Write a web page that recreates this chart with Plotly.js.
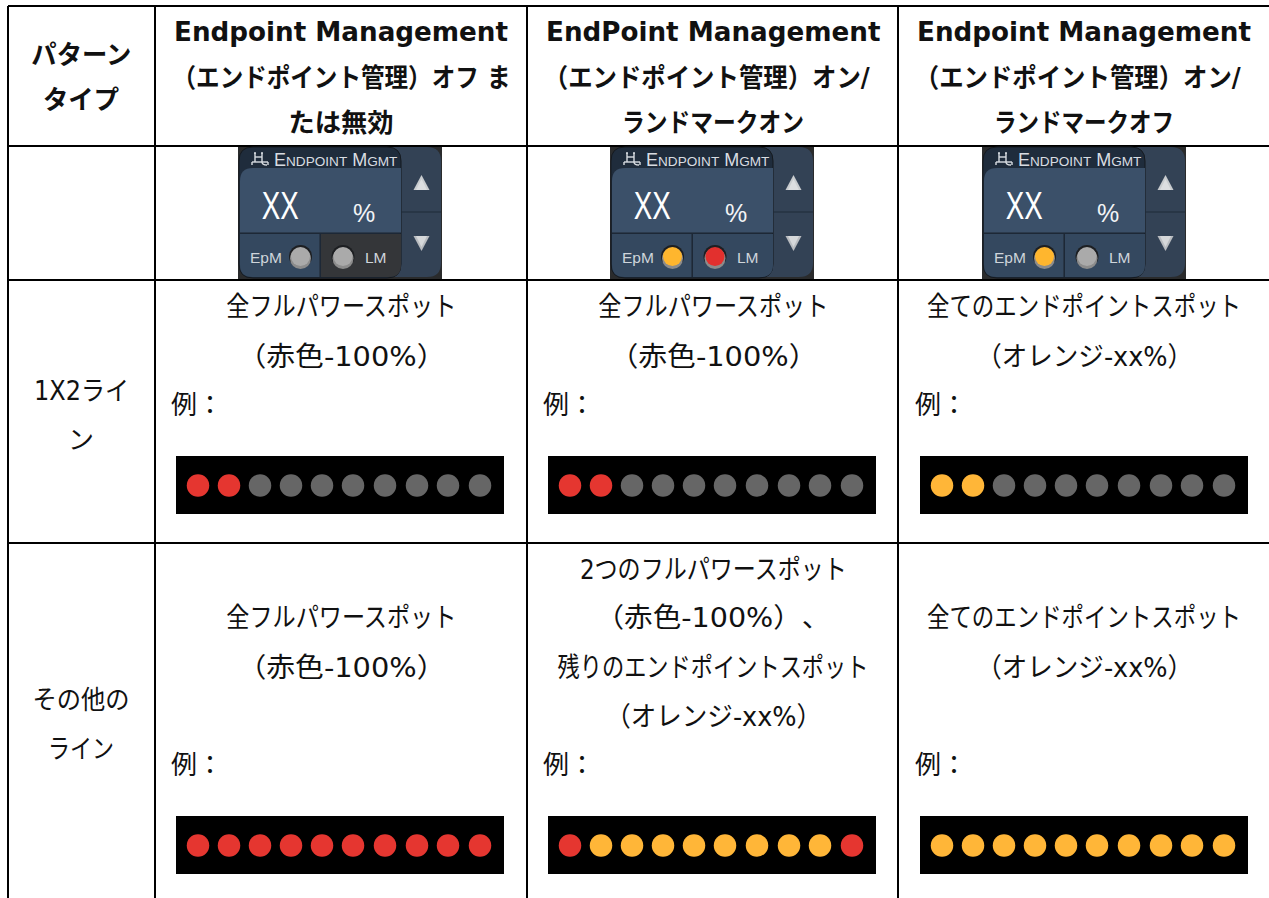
<!DOCTYPE html>
<html><head><meta charset="utf-8">
<script src="https://cdn.plot.ly/plotly-3.0.1.min.js"></script>
<style>html,body{margin:0;padding:0;background:#fff}#c{width:1269px;height:898px}</style></head>
<body><div id="c"></div>
<script>
// ---- data ----
const headers = [
  ['パターン','タイプ'],
  ['Endpoint Management','（エンドポイント管理）オフ ま','たは無効'],
  ['EndPoint Management','（エンドポイント管理）オン/','ランドマークオン'],
  ['Endpoint Management','（エンドポイント管理）オン/','ランドマークオフ']
];
const rowLabels = [['1X2ライ','ン'],['その他の','ライン']];
const exampleLabel = '例：';
const row1Text = [
  ['全フルパワースポット','（赤色-100%）'],
  ['全フルパワースポット','（赤色-100%）'],
  ['全てのエンドポイントスポット','（オレンジ-xx%）']
];
const row2Text = [
  ['全フルパワースポット','（赤色-100%）'],
  ['2つのフルパワースポット','（赤色-100%）\u200B、','残りのエンドポイントスポット','（オレンジ-xx%）'],
  ['全てのエンドポイントスポット','（オレンジ-xx%）']
];
const row1Strips = [
  ['R','R','G','G','G','G','G','G','G','G'],
  ['R','R','G','G','G','G','G','G','G','G'],
  ['O','O','G','G','G','G','G','G','G','G']
];
const row2Strips = [
  ['R','R','R','R','R','R','R','R','R','R'],
  ['R','O','O','O','O','O','O','O','O','R'],
  ['O','O','O','O','O','O','O','O','O','O']
];
const widgetEpM = ['off','on','on'];
const widgetLM  = ['off','red','off'];
const widgetValue = 'XX', widgetUnit = '%';

// ---- style ----
const ledColor = {R:'#e53630',O:'#ffb638',G:'#666666'};
const widgetLed = {off:'#aaaaaa',on:'#ffb62e',red:'#e2302e'};
const JP = '"DejaVu Sans","Noto Sans CJK JP",sans-serif';
const colX = [155,527,898];
const colCenter = [81,341,713,1084];
const rowY = [6,146,280,543];
const dotOffsets = [22,53,84,115,146,177,209,241,272,304];
const stripW = 328, stripH = 58;
// rendered width of each condensed line (the reference face has narrow kana)
const lineWidths = {
  'パターン':100,'タイプ':76,
  '（エンドポイント管理）オフ ま':338,'（エンドポイント管理）オン/':326,
  'たは無効':105,'ランドマークオン':182,'ランドマークオフ':180,
  '1X2ライ':95,'その他の':97,'ライン':66,
  '全フルパワースポット':230,'（赤色-100%）':208,'全てのエンドポイントスポット':314,
  '（オレンジ-xx%）':217,'2つのフルパワースポット':267,'（赤色-100%）\u200B、':235,
  '残りのエンドポイントスポット':311
};
const lineShift = {'（エンドポイント管理）オン/':-6};

const shapes = [], annotations = [], traces = [], fits = [];
function text(x,y,s,o={}){
  fits[annotations.length]=lineWidths[s]||null;
  annotations.push({x:x+(lineShift[s]||0),y,xref:'x',yref:'y',text:s,showarrow:false,xanchor:o.anchor||'center',yanchor:'middle',
    align:o.anchor||'center',borderpad:0,
    font:{family:o.family||JP,size:o.size||27,color:o.color||'#111111',weight:o.weight||400}});
}
function line(x0,y0,x1,y1,color,w){shapes.push({type:'line',layer:'below',xref:'x',yref:'y',x0,y0,x1,y1,line:{color:color||'#000',width:w||2}});}
function rect(x0,y0,x1,y1,fill){shapes.push({type:'rect',layer:'below',xref:'x',yref:'y',x0,y0,x1,y1,fillcolor:fill,line:{width:0}});}
function poly(p,fill){shapes.push({type:'path',layer:'below',xref:'x',yref:'y',path:p,fillcolor:fill,line:{width:0}});}
function rr(x0,y0,x1,y1,r,fill,stroke){
  const [tl,tr,br,bl]=Array.isArray(r)?r:[r,r,r,r];
  const p=`M${x0+tl},${y0} L${x1-tr},${y0} Q${x1},${y0} ${x1},${y0+tr} L${x1},${y1-br} Q${x1},${y1} ${x1-br},${y1} L${x0+bl},${y1} Q${x0},${y1} ${x0},${y1-bl} L${x0},${y0+tl} Q${x0},${y0} ${x0+tl},${y0} Z`;
  shapes.push({type:'path',layer:'below',xref:'x',yref:'y',path:p,fillcolor:fill,line:stroke?{color:stroke,width:1}:{width:0}});
}

// grid
[8,...colX].forEach(x=>line(x,6,x,898));
rowY.forEach(y=>line(8,y,1269,y));

// header
headers[0].forEach((s,i)=>text(colCenter[0],[55,100][i],s,{weight:700,size:26}));
[1,2,3].forEach(c=>headers[c].forEach((s,i)=>text(colCenter[c],[32,78,123][i],s,{weight:700,size:i===0?26.2:26})));

// row labels
rowLabels[0].forEach((s,i)=>text(81,[391,440][i],s,{size:26}));
rowLabels[1].forEach((s,i)=>text(81,[700,749][i],s,{size:26}));

// widgets
widgetEpM.forEach((ep,i)=>{
  const X=238+372*i, Y=146;
  rect(X,Y+1,X+204,Y+133,'#2a2b2c');
  rr(X+2,Y+1,X+203,Y+131,14,'#334255');
  rr(X+1,Y+1,X+163,Y+132,14,'#1f2c3c','#15191e');
  rr(X+2,Y+22,X+163,Y+87,[13,0,0,0],'#3b5069');
  line(X+163,Y+66,X+203,Y+66,'#1f2a38',1);
  rr(X+2,Y+88,X+82,Y+131,[0,0,0,12],'#34485f');
  rr(X+83,Y+88,X+163,Y+131,[0,0,12,0],ep==='off'?'#343639':'#34485f');
  line(X+2,Y+87,X+163,Y+87,'#1c2530',1);
  line(X+82,Y+88,X+82,Y+131,'#1c2530',1);
  // icon
  const ix=X+14,iy=Y+6;
  ['M0,10 L16,10','M0,10 L0,13','M16,10 L16,13','M3,1 L3,10','M10,1 L10,10','M3,5 L10,5','M2,1 L4,1','M9,1 L11,1','M10,10 Q10,13 15,13']
    .forEach(d=>{const p=d.replace(/(-?\d+),(-?\d+)/g,(m,a,b)=>(+a+ix)+','+(+b+iy));
      shapes.push({type:'path',layer:'below',xref:'x',yref:'y',path:p,line:{color:'#d9dde2',width:1.4}});});
  annotations.push({x:X+35,y:Y+14,xref:'x',yref:'y',xanchor:'left',yanchor:'middle',showarrow:false,borderpad:0,
    text:'E<span style="font-size:13.6px">NDPOINT</span> M<span style="font-size:13.6px">GMT</span>',
    font:{family:'"Liberation Sans",sans-serif',size:18,color:'#d8dce2'}});
  text(X+42,Y+60,widgetValue,{family:'"Liberation Sans",sans-serif',size:38,color:'#ffffff'});
  text(X+125.5,Y+66.5,widgetUnit,{family:'"Liberation Sans",sans-serif',size:25,color:'#f2f4f6'});
  text(X+28,Y+111,'EpM',{family:'"Liberation Sans",sans-serif',size:15.5,color:'#cfd5db'});
  text(X+138,Y+111,'LM',{family:'"Liberation Sans",sans-serif',size:15.5,color:'#cfd5db'});
  // arrows
  const tx=X+183.5;
  poly(`M${tx},${Y+29} L${tx+8},${Y+44} L${tx-8},${Y+44} Z`,'#c9cccf');
  poly(`M${tx},${Y+33} L${tx+5.5},${Y+44} L${tx-5.5},${Y+44} Z`,'#dcdee0');
  poly(`M${tx-8},${Y+90} L${tx+8},${Y+90} L${tx},${Y+105} Z`,'#b9bcc0');
  poly(`M${tx-5.5},${Y+90} L${tx+5.5},${Y+90} L${tx},${Y+101} Z`,'#d6d8da');
});
const epX = widgetEpM.map((_,i)=>300.5+372*i), lmX = widgetLM.map((_,i)=>343+372*i);
const ledX = [...epX,...lmX];
const ledBase = 256.5;
traces.push({type:'scatter',mode:'markers',hoverinfo:'skip',x:ledX,y:ledX.map(()=>ledBase),
  marker:{size:23,color:'#1d1f22',line:{width:0}}});
traces.push({type:'scatter',mode:'markers',hoverinfo:'skip',x:ledX,y:ledX.map(()=>ledBase+2),
  marker:{size:21,color:'#8c8c8c',line:{width:0}}});
traces.push({type:'scatter',mode:'markers',hoverinfo:'skip',x:ledX,y:ledX.map(()=>ledBase),
  marker:{size:19,color:[...widgetEpM,...widgetLM].map(s=>widgetLed[s]),line:{width:0}}});

// body text & strips
const stripLeft=[176,548,920];
function body(lines,ys,c){lines.forEach((s,i)=>text(colCenter[c+1],ys[i],s));}
function strip(states,c,top){
  rect(stripLeft[c],top,stripLeft[c]+stripW,top+stripH,'#000000');
  traces.push({type:'scatter',mode:'markers',hoverinfo:'skip',
    x:dotOffsets.map(o=>stripLeft[c]+o),y:states.map(()=>top+29.5),
    marker:{size:22.5,color:states.map(s=>ledColor[s]),line:{width:0}}});
}
[0,1,2].forEach(c=>{
  body(row1Text[c],[306,356],c);
  text(stripLeft[c]-6,405,exampleLabel,{anchor:'left',size:26});
  strip(row1Strips[c],c,456);
  const n=row2Text[c].length;
  body(row2Text[c],n===4?[569,617,667,716]:[617,667],c);
  text(stripLeft[c]-6,765,exampleLabel,{anchor:'left',size:26});
  strip(row2Strips[c],c,816);
});

Plotly.newPlot('c',traces,{
  width:1269,height:898,margin:{l:0,r:0,t:0,b:0},showlegend:false,
  paper_bgcolor:'#ffffff',plot_bgcolor:'#ffffff',
  xaxis:{range:[0,1269],visible:false,fixedrange:true},
  yaxis:{range:[898,0],visible:false,fixedrange:true},
  shapes,annotations
},{displayModeBar:false,staticPlot:true}).then(gd=>{
  // fit real text to the widths of the reference's condensed faces
  gd.querySelectorAll('.annotation').forEach((a,i)=>{
    const t=a.querySelector('.annotation-text'); if(!t) return;
    const w = t.textContent===widgetValue ? 37 : fits[i];
    if(w){t.setAttribute('textLength',String(w));t.setAttribute('lengthAdjust','spacingAndGlyphs');}
  });
});
</script></body></html>
